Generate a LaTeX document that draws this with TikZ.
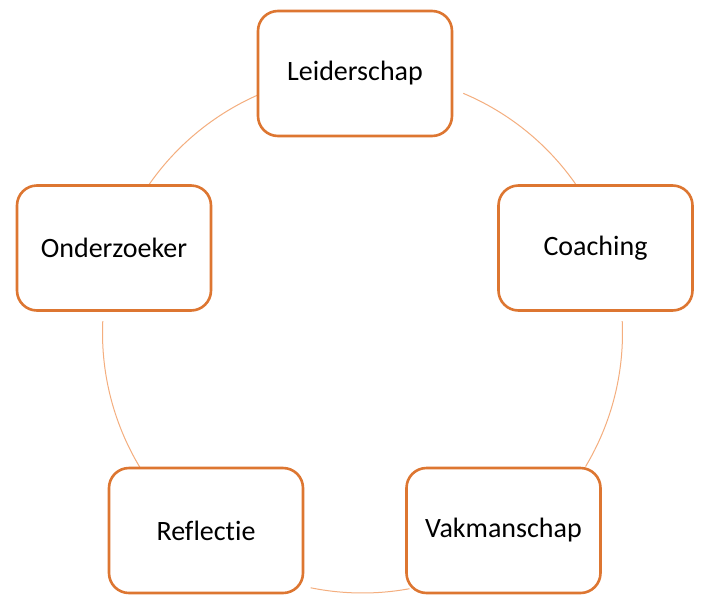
\documentclass[tikz,border=0pt]{standalone}
\usepackage{fontspec}
\setmainfont{Carlito}[Ligatures={NoCommon}]
\definecolor{boxorange}{HTML}{DD7631}
\definecolor{arcorange}{HTML}{F4AE7E}
\begin{document}
\begin{tikzpicture}[x=1pt,y=1pt,
  cyclebox/.style={draw=boxorange, line width=2.6pt, fill=white, rounded corners=20pt,
    minimum width=194pt, minimum height=125pt, inner sep=0pt, font=\fontsize{28}{32}\selectfont},
  cyclearc/.style={draw=arcorange, line width=1pt}]
\useasboundingbox (0,0) rectangle (702,-595);
\fill[white] (0,0) rectangle (702,-595);
\coordinate (c) at (362.5,-333);
% arcs (drawn first, boxes on top)
\draw[cyclearc] (c) ++(67.2:260pt) arc[start angle=67.2, end angle=35, radius=260pt];
\draw[cyclearc] (c) ++(2.6:260pt) arc[start angle=2.6, end angle=-30.9, radius=260pt];
\draw[cyclearc] (c) ++(-79.6:260pt) arc[start angle=-79.6, end angle=-101.5, radius=260pt];
\draw[cyclearc] (c) ++(213.7:260pt) arc[start angle=213.7, end angle=177.4, radius=260pt];
\draw[cyclearc] (c) ++(145.8:260pt) arc[start angle=145.8, end angle=113.3, radius=260pt];
\node[cyclebox] (lead) at (355,-73.5) {Leiderschap};
\node[cyclebox] (coach) at (595.5,-248) {Coaching};
\node[cyclebox] (vak) at (503.5,-530.5) {Vakmanschap};
\node[cyclebox] (refl) at (206,-530.5) {Ref\kern0pt lect\kern0pt ie};
\node[cyclebox] (onder) at (114,-248) {Onderzoeker};
\end{tikzpicture}
\end{document}
